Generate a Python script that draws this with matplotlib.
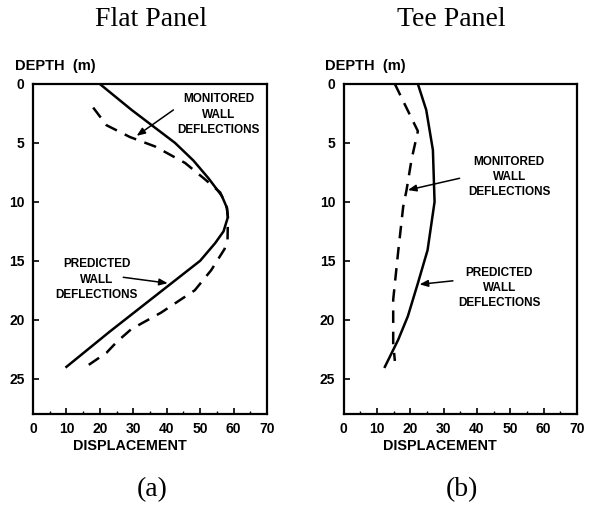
import numpy as np
import matplotlib
matplotlib.use("Agg")
import matplotlib.pyplot as plt
from matplotlib.ticker import MultipleLocator

# ---------- data ----------
flat_pred_depth = [0, 2.2, 5, 6.5, 8, 9.5, 10.5, 11.3, 12.5, 13.5, 15, 17, 19, 21, 22.5, 24]
flat_pred_disp = [20, 29.5, 42.5, 48, 52.5, 56.5, 58, 58.3, 57, 54.5, 50, 41, 32, 23, 16.5, 10]

flat_mon_depth = [2, 3.5, 4.5, 5.3, 6.7, 8.1, 9.2, 10.5, 11.3, 13.2, 14, 15.8, 17.5, 19.4, 20.8, 21.9, 22.8, 24]
flat_mon_disp = [18, 22, 29, 36.5, 45.5, 51.5, 56, 58, 58.3, 58.2, 57.3, 53.3, 48.4, 38.3, 29.4, 25, 22, 15.8]

tee_pred_depth = [0, 2.2, 5.6, 10, 14.1, 16.9, 19.7, 21.7, 24]
tee_pred_disp = [22.3, 24.8, 26.8, 27.3, 25.2, 22.3, 19.3, 16.4, 12.4]

tee_mon_depth = [0, 1.4, 4, 6.4, 9, 10.4, 14.2, 18.3, 22, 23.5]
tee_mon_disp = [15.4, 17.8, 22.3, 20.4, 18.9, 17.9, 16.4, 14.9, 14.9, 15.4]

x_ticks = [0, 10, 20, 30, 40, 50, 60, 70]
y_ticks = [0, 5, 10, 15, 20, 25]
titles = ["Flat Panel", "Tee Panel"]
captions = ["(a)", "(b)"]

sans = "Liberation Sans"
serif = "Liberation Serif"
label_txt = "MONITORED\nWALL\nDEFLECTIONS"
pred_txt = "PREDICTED\nWALL\nDEFLECTIONS"

fig = plt.figure(figsize=(5.97, 5.21), dpi=100)

ax1 = fig.add_axes([33/597, 1-414/521, 234/597, 330/521])
ax2 = fig.add_axes([343.5/597, 1-414/521, 233.5/597, 330/521])


def style_axis(ax):
    ax.set_xlim(0, 70)
    ax.set_ylim(28, 0)
    ax.set_xticks(x_ticks)
    ax.set_yticks(y_ticks)
    ax.xaxis.set_minor_locator(MultipleLocator(5))
    ax.tick_params(which="major", direction="in", length=4, width=1.2,
                   labelsize=10, pad=6)
    ax.tick_params(which="minor", direction="in", length=2, width=1.0)
    ax.tick_params(axis="y", which="minor", left=False)
    for lab in ax.get_xticklabels() + ax.get_yticklabels():
        lab.set_fontfamily(sans)
        lab.set_fontweight("bold")
    for sp in ax.spines.values():
        sp.set_linewidth(1.6)


def arrow(ax, tail, head):
    ax.annotate("", xy=head, xytext=tail,
                arrowprops=dict(arrowstyle="-|>,head_length=0.5,head_width=0.2",
                                color="black", lw=1.1, shrinkA=0, shrinkB=0))


def note(ax, x, y, s):
    ax.text(x, y, s, ha="center", va="center", fontsize=8.5,
            fontweight="bold", family=sans, linespacing=1.35)


for ax in (ax1, ax2):
    style_axis(ax)

# ---------- (a) Flat panel ----------
ax1.plot(flat_pred_disp, flat_pred_depth, color="black", lw=1.8)
ax1.plot(flat_mon_disp, flat_mon_depth, color="black", lw=1.8, dashes=(5, 3.5))
note(ax1, 55.5, 2.6, label_txt)
arrow(ax1, (42, 2.2), (31, 4.4))
note(ax1, 19, 16.6, pred_txt)
arrow(ax1, (27, 16.4), (40.3, 16.9))

# ---------- (b) Tee panel ----------
ax2.plot(tee_pred_disp, tee_pred_depth, color="black", lw=1.8)
ax2.plot(tee_mon_disp, tee_mon_depth, color="black", lw=1.8, dashes=(5, 3.5))
note(ax2, 49.7, 7.9, label_txt)
arrow(ax2, (34.8, 8.0), (19.3, 9.0))
note(ax2, 46.7, 17.3, pred_txt)
arrow(ax2, (32.8, 16.7), (22.8, 17.0))

# ---------- labels ----------
for x_depth, x_disp, x_title, x_cap, t, c in [(15, 73, 151, 152, titles[0], captions[0]),
                                              (325, 383, 451, 462, titles[1], captions[1])]:
    fig.text(x_depth/597, 1-66/521, "DEPTH  (m)", ha="left", va="center",
             fontsize=10.5, fontweight="bold", family=sans)
    fig.text(x_disp/597, 1-446/521, "DISPLACEMENT", ha="left", va="center",
             fontsize=10.4, fontweight="bold", family=sans)
    fig.text(x_title/597, 1-20/521, t, ha="center", va="center",
             fontsize=20, family=serif)
    fig.text(x_cap/597, 1-490/521, c, ha="center", va="center",
             fontsize=20, family=serif)

fig.savefig("out.png", dpi=100)
